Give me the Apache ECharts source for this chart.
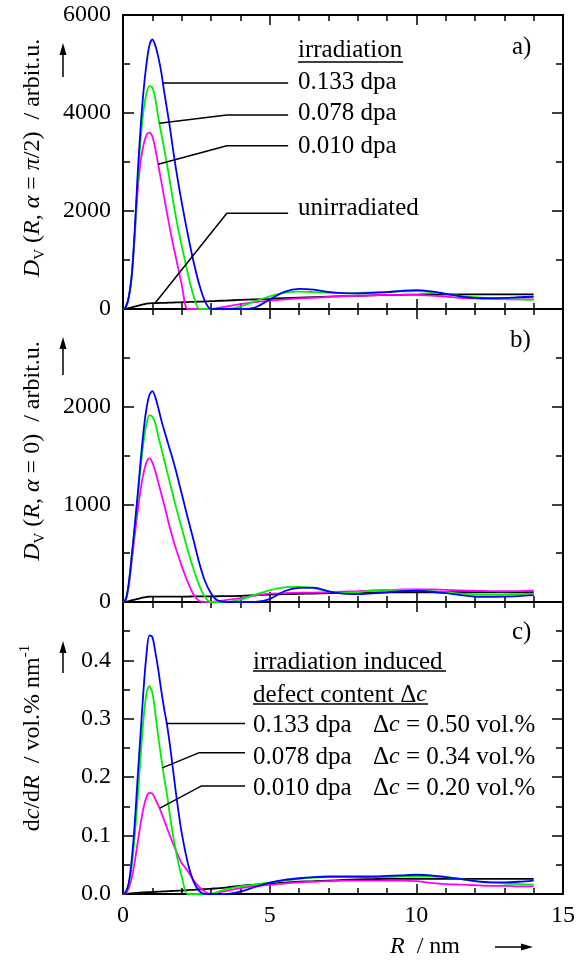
<!DOCTYPE html>
<html>
<head>
<meta charset="utf-8">
<script src="https://cdn.jsdelivr.net/npm/echarts@6/dist/echarts.min.js"></script>
<style>
html,body{margin:0;padding:0;background:#fff;}
#main{width:586px;height:965px;}
</style>
</head>
<body>
<div id="main"></div>
<script>
// R grid (nm) shared by all curves
const R = [0,0.1,0.2,0.3,0.4,0.5,0.6,0.7,0.8,0.9,1.0,1.1,1.2,1.3,1.4,1.5,1.6,1.7,1.8,1.9,2.0,
  2.2,2.4,2.6,2.8,3.0,3.2,3.5,
  4.0,4.5,5.0,5.5,6.0,6.5,7.0,7.5,8.0,8.5,9.0,9.5,10.0,10.5,11.0,11.5,12.0,12.5,13.0,13.5,14.0];

// a) D_V(R, alpha = pi/2)
const aBlue = [0,50,250,700,1600,2750,3700,4450,5000,5380,5500,5380,5150,4850,4450,4080,3700,3280,2880,2520,2180,
  1550,980,500,150,0,0,0,
  0,30,190,350,410,395,350,325,320,330,345,370,385,360,310,260,225,220,225,240,250];
const aGreen = [0,50,250,690,1550,2600,3450,4050,4400,4550,4520,4300,3920,3600,3280,2950,2600,2230,1890,1580,1300,
  750,280,0,0,0,0,0,
  50,160,260,330,355,345,330,325,330,340,350,360,365,345,310,270,240,220,205,195,185];
const aMagenta = [0,40,250,680,1500,2400,3000,3350,3550,3600,3520,3280,2950,2620,2290,1960,1640,1340,1060,780,500,
  0,0,0,0,0,20,50,
  100,140,170,195,215,230,245,260,270,280,290,295,290,275,255,230,215,205,200,195,195];
const aBlack = [0,10,20,35,50,65,80,95,110,115,118,120,122,124,126,128,130,132,134,136,138,
  142,146,150,155,160,165,172,
  185,197,208,220,232,243,253,262,270,278,285,290,295,298,300,300,300,300,300,300,300];

// b) D_V(R, alpha = 0)
const bBlue = [0,30,200,480,780,1100,1440,1750,1980,2120,2160,2100,1990,1870,1760,1660,1560,1460,1350,1230,1110,
  870,640,400,210,90,20,0,
  0,0,30,110,145,148,110,85,80,88,98,110,115,105,90,70,55,52,55,60,70];
const bGreen = [0,30,200,470,760,1070,1380,1640,1820,1910,1900,1830,1700,1580,1460,1340,1220,1100,980,870,760,
  540,340,170,50,0,0,0,
  25,75,120,150,155,140,110,92,100,115,125,125,120,110,100,85,75,73,75,80,85];
const bMagenta = [0,25,170,420,680,930,1150,1320,1430,1470,1430,1340,1230,1115,1000,880,760,650,550,460,370,
  210,80,10,0,0,5,20,
  40,65,85,90,95,97,100,105,110,118,125,128,130,128,125,120,115,112,110,112,115];
const bBlack = [0,5,10,18,25,32,40,46,52,54,55,55,55,55,55,55,55,55,56,56,56,
  56,57,57,58,58,59,60,
  63,70,76,80,84,87,90,92,94,96,98,99,100,100,100,100,100,100,100,100,100];

// c) dc/dR
const cBlue = [0,0.004,0.02,0.06,0.12,0.2,0.275,0.35,0.41,0.443,0.44,0.415,0.385,0.35,0.318,0.29,0.255,0.215,0.175,0.138,0.105,
  0.055,0.022,0.005,0,0,0,0,
  0.004,0.012,0.019,0.024,0.027,0.029,0.03,0.03,0.03,0.03,0.031,0.032,0.033,0.032,0.029,0.026,0.022,0.02,0.02,0.021,0.023];
const cGreen = [0,0.004,0.018,0.05,0.1,0.165,0.235,0.3,0.343,0.356,0.345,0.31,0.27,0.235,0.2,0.17,0.135,0.102,0.075,0.05,0.03,
  0,0,0,0,0,0.003,0.008,
  0.013,0.016,0.02,0.023,0.026,0.028,0.029,0.029,0.029,0.029,0.029,0.03,0.03,0.03,0.029,0.026,0.022,0.02,0.018,0.017,0.016];
const cMagenta = [0,0.002,0.01,0.028,0.055,0.088,0.12,0.148,0.166,0.173,0.172,0.163,0.152,0.14,0.127,0.113,0.1,0.087,0.075,0.063,0.053,
  0.04,0.024,0.012,0.004,0,0.002,0.005,
  0.01,0.013,0.016,0.018,0.02,0.021,0.022,0.023,0.023,0.023,0.023,0.023,0.022,0.019,0.017,0.016,0.015,0.014,0.014,0.013,0.013];
const cBlack = [0,0.0004,0.0008,0.0012,0.0016,0.002,0.0024,0.0027,0.003,0.0032,0.0035,0.0037,0.004,0.0042,0.0045,0.0047,0.005,0.0052,0.0055,0.0057,0.006,
  0.0066,0.0072,0.0078,0.0084,0.009,0.0098,0.011,
  0.014,0.016,0.018,0.0195,0.021,0.022,0.023,0.024,0.025,0.0255,0.026,0.026,0.026,0.026,0.026,0.026,0.026,0.026,0.026,0.026,0.026];

// leader lines (data coords) from curve to label
const aLeaders = [
  [[1.36,4612],[5.63,4612]],
  [[1.24,3790],[3.54,3959],[5.63,3959]],
  [[1.2,2953],[3.54,3333],[5.63,3333]],
  [[1.09,116],[3.54,1953],[5.63,1953]]
];
const cLeaders = [
  [[1.46,0.292],[4.16,0.292]],
  [[1.34,0.216],[2.60,0.242],[4.16,0.242]],
  [[1.26,0.147],[2.68,0.185],[4.16,0.185]]
];

const aLabels = ['0.133 dpa','0.078 dpa','0.010 dpa','unirradiated'];
const cDpa = ['0.133 dpa','0.078 dpa','0.010 dpa'];
const cDelta = ['0.50','0.34','0.20'];

const BLUE='#0000ff', GREEN='#00ee00', MAG='#ff00ff', BLK='#000000';
const FONT='"Liberation Serif","Times New Roman",serif';

var myChart = echarts.init(document.getElementById('main'));

const grids=[
  {left:123,right:23,top:15,height:294},
  {left:123,right:23,top:309,height:293},
  {left:123,right:23,top:602,height:292}
];

function xAx(i,pos){
  return {
    gridIndex:i, type:'value', min:0, max:15, interval:5, position:pos,
    axisLine:{show:true,onZero:false,lineStyle:{color:'#000',width:2}},
    axisTick:{show:true,inside:true,length:10,lineStyle:{color:'#000',width:1.5}},
    minorTick:{show:true,splitNumber:5,length:6,lineStyle:{color:'#000',width:1.5}},
    axisLabel:{show:(i===2&&pos==='bottom'),color:'#000',fontSize:24,fontFamily:FONT,margin:10},
    splitLine:{show:false}
  };
}
const yCfg=[
  {max:6000,interval:2000,fmt:v=>String(v)},
  {max:3000,interval:1000,fmt:v=>v>=3000?'':String(v)},
  {max:0.5,interval:0.1,fmt:v=>v>=0.5?'':v.toFixed(1)}
];
function yAx(i,pos){
  const c=yCfg[i];
  return {
    gridIndex:i, type:'value', min:0, max:c.max, interval:c.interval, position:pos,
    axisLine:{show:true,onZero:false,lineStyle:{color:'#000',width:2}},
    axisTick:{show:true,inside:true,length:11,lineStyle:{color:'#000',width:1.5}},
    minorTick:{show:true,splitNumber:2,length:7,lineStyle:{color:'#000',width:1.5}},
    axisLabel:{show:pos==='left',color:'#000',fontSize:24,fontFamily:FONT,margin:12,formatter:c.fmt},
    splitLine:{show:false}
  };
}

function curve(i,vals,color){
  return {type:'line',xAxisIndex:i,yAxisIndex:i,data:R.map((r,k)=>[r,vals[k]]),
    showSymbol:false,smooth:0.3,clip:true,silent:true,
    lineStyle:{color:color,width:1.8},z:2};
}
function leader(i,pts){
  return {type:'line',xAxisIndex:i,yAxisIndex:i,data:pts,showSymbol:false,silent:true,
    lineStyle:{color:'#000',width:1.5},z:3};
}

const series=[
  curve(0,aBlack,BLK),curve(0,aMagenta,MAG),curve(0,aGreen,GREEN),curve(0,aBlue,BLUE),
  curve(1,bBlack,BLK),curve(1,bMagenta,MAG),curve(1,bGreen,GREEN),curve(1,bBlue,BLUE),
  curve(2,cBlack,BLK),curve(2,cMagenta,MAG),curve(2,cGreen,GREEN),curve(2,cBlue,BLUE)
];
aLeaders.forEach(p=>series.push(leader(0,p)));
cLeaders.forEach(p=>series.push(leader(2,p)));

const rich={
  i:{fontStyle:'italic',fontSize:24,fontFamily:FONT,lineHeight:30},
  n:{fontSize:24,fontFamily:FONT,lineHeight:30},
  sub:{fontSize:15,fontFamily:FONT,verticalAlign:'bottom',lineHeight:30},
  sup:{fontSize:15,fontFamily:FONT,verticalAlign:'top',lineHeight:30}
};
function txt(x,y,text,opt){
  opt=opt||{};
  return {type:'text',x:x,y:y,rotation:opt.rot||0,silent:true,
    style:{text:text,rich:rich,fill:'#000',fontSize:opt.size||25,fontFamily:FONT,
      align:opt.align||'left',verticalAlign:'middle'}};
}
function hline(x1,x2,y){
  return {type:'line',silent:true,shape:{x1:x1,y1:y,x2:x2,y2:y},style:{stroke:'#000',lineWidth:1.5}};
}
function upArrow(x,y1,y2){
  return [{type:'line',silent:true,shape:{x1:x,y1:y1,x2:x,y2:y2+8},style:{stroke:'#000',lineWidth:1.5}},
    {type:'polygon',silent:true,shape:{points:[[x,y2],[x-3.5,y2+12],[x+3.5,y2+12]]},style:{fill:'#000'}}];
}

const graphic=[];
// panel a legend
graphic.push(txt(298,50,'irradiation'));
graphic.push(hline(298,403,62));
[82,113,146,208].forEach((y,k)=>graphic.push(txt(298,y,aLabels[k])));
graphic.push(txt(512,47,'a)'));
graphic.push(txt(510,340,'b)'));
graphic.push(txt(512,632,'c)'));
// panel c legend
graphic.push(txt(253,662,'irradiation induced'));
graphic.push(hline(253,446,671));
graphic.push(txt(253,695,'defect content Δ{i|c}'));
graphic.push(hline(253,428,704));
[725,757,788].forEach((y,k)=>{
  graphic.push(txt(253,y,cDpa[k]));
  graphic.push(txt(373,y,'Δ{i|c} = '+cDelta[k]+' vol.%'));
});
// y titles
graphic.push(txt(33,158,'{i|D}{sub|V} ({i|R}, {i|α} = {i|π}/2)  / arbit.u.',{rot:Math.PI/2,align:'center',size:24}));
graphic.push(txt(33,451,'{i|D}{sub|V} ({i|R}, {i|α} = 0)  / arbit.u.',{rot:Math.PI/2,align:'center',size:24}));
graphic.push(txt(33,738,'d{i|c}/d{i|R}  / vol.% nm{sup|-1}',{rot:Math.PI/2,align:'center',size:24}));
graphic.push(...upArrow(63,77,43));
graphic.push(...upArrow(63,375,337));
graphic.push(...upArrow(63,673,641));
// x title
graphic.push(txt(425,947,'{i|R}  / nm',{align:'center',size:24}));
graphic.push({type:'line',silent:true,shape:{x1:495,y1:947,x2:524,y2:947},style:{stroke:'#000',lineWidth:1.5}});
graphic.push({type:'polygon',silent:true,shape:{points:[[533,947],[521,943.5],[521,950.5]]},style:{fill:'#000'}});

var option={
  animation:false,
  backgroundColor:'#fff',
  grid:grids,
  xAxis:[xAx(0,'bottom'),xAx(1,'bottom'),xAx(2,'bottom'),xAx(0,'top'),xAx(1,'top'),xAx(2,'top')],
  yAxis:[yAx(0,'left'),yAx(1,'left'),yAx(2,'left'),yAx(0,'right'),yAx(1,'right'),yAx(2,'right')],
  series:series,
  graphic:graphic
};
myChart.setOption(option);
</script>
</body>
</html>
